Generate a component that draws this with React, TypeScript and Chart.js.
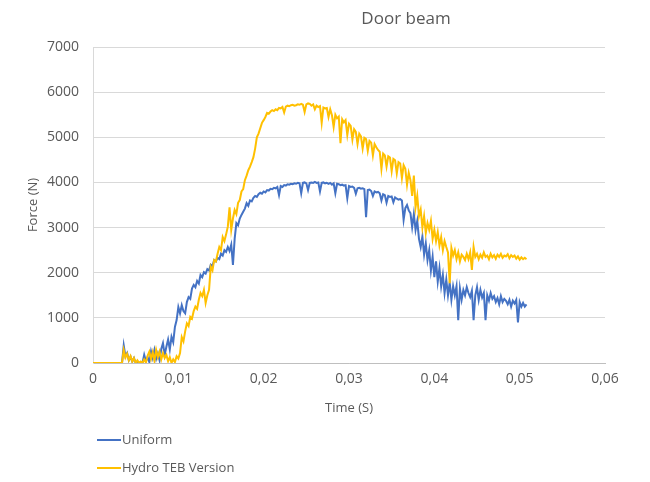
import React, { useEffect, useRef } from "react";
import { Chart, registerables } from "chart.js";

Chart.register(...registerables);

const TITLE = "Door beam";
const X_TITLE = "Time (S)";
const Y_TITLE = "Force (N)";
const SERIES_NAMES = ["Uniform", "Hydro TEB Version"];
const SERIES_COLORS = ["#4472C4", "#FFC000"];
const X_MIN = 0;
const X_MAX = 0.06;
const X_STEP = 0.01;
const Y_MIN = 0;
const Y_MAX = 7000;
const Y_STEP = 1000;

// both traces sit at zero before the first sample
const LEAD_TIMES = [0];
const LEAD_VALUES = [0];

// sampled trace: first sample time and sample spacing (s)
const T_START = 0.0034;
const T_STEP = 0.0002;

const UNIFORM = [
  0, 390, 150, 220, 60, 140, 30, 110, 0, 40,
  0, 20, 0, 180, 40, 130, 20, 260, 110, 290,
  90, 210, 60, 310, 440, 180, 360, 520, 300, 580,
  460, 800, 950, 1240, 1100, 1280, 1150, 1100, 1350, 1460,
  1420, 1650, 1730, 1680, 1820, 1760, 1950, 1900, 2010, 1980,
  2080, 2050, 2180, 2150, 2280, 2250, 2330, 2300, 2420, 2380,
  2500, 2460, 2570, 2480, 2620, 2170, 2750, 3100, 3050, 3200,
  3280, 3350, 3420, 3540, 3480, 3600, 3580, 3660, 3700, 3680,
  3740, 3770, 3750, 3800, 3780, 3830, 3820, 3860, 3850, 3880,
  3870, 3900, 3720, 3920, 3900, 3940, 3930, 3960, 3950, 3970,
  3960, 3980, 3970, 3990, 3980, 3760, 3990, 4000, 3980, 3830,
  3990, 4000, 3990, 4010, 3990, 4000, 3800, 3990, 4000, 3980,
  3990, 3970, 3990, 3950, 3980, 3760, 3970, 3960, 3940, 3950,
  3930, 3940, 3650, 3920, 3900, 3910, 3880, 3750, 3870, 3880,
  3860, 3870, 3850, 3230, 3830, 3840, 3810, 3700, 3800, 3780,
  3790, 3760, 3600, 3740, 3720, 3550, 3700, 3680, 3690, 3560,
  3670, 3640, 3620, 3630, 3600, 3170, 3430, 3500, 3380, 3320,
  3010, 3300, 2950, 3150, 2750, 2570, 2800, 2400, 2650, 2280,
  2500, 2050, 2350, 1900, 2250, 1800, 2100, 1700, 1950, 1550,
  1850, 1500, 1780, 1400, 1700, 1500, 1700, 950, 1650, 1400,
  1620, 1500, 1680, 1550, 1460, 1600, 950, 1500, 1680, 1400,
  1620, 1450, 1550, 950, 1500, 1380, 1550, 1420, 1480, 1350,
  1440, 1300, 1480, 1350, 1420, 1380, 1300, 1400, 1250, 1380,
  1320, 1400, 900, 1350, 1250, 1330, 1250, 1300,
];

const HYDRO = [
  0, 290, 120, 200, 60, 150, 30, 110, 0, 60,
  0, 30, 0, 80, 10, 160, 250, 90, 240, 50,
  290, 130, 250, 80, 220, 110, 180, 40, 130, 0,
  80, 20, 150, 100, 220, 575, 480, 700, 880, 820,
  1020, 980, 1150, 1250, 1200, 1400, 1550, 1480, 1620, 1330,
  1500, 1620, 2130, 2050, 2280, 2250, 2420, 2570, 2500, 2790,
  2700, 2850, 3020, 3450, 2950, 3200, 3390, 3300, 3550, 3610,
  3800, 3850, 4050, 4150, 4270, 4350, 4450, 4560, 4750, 5000,
  5080, 5200, 5320, 5380, 5450, 5540, 5520, 5570, 5600, 5580,
  5620, 5600, 5650, 5640, 5670, 5550, 5680, 5700, 5690, 5710,
  5720, 5700, 5710, 5730, 5720, 5740, 5720, 5560, 5730, 5750,
  5740, 5700, 5730, 5620, 5700, 5670, 5690, 5320, 5660, 5640,
  5650, 5450, 5620, 5490, 5230, 5500, 5420, 5460, 4870, 5400,
  5330, 5380, 5050, 5300, 5250, 4950, 5180, 5120, 4850, 5080,
  5020, 4750, 4990, 4960, 4700, 4920, 4880, 4600, 4850, 4780,
  4720, 4680, 4300, 4640, 4600, 4350, 4580, 4550, 4250, 4520,
  4490, 4200, 4450, 4420, 4100, 4380, 4300, 3950, 4210, 4050,
  3700, 4150, 3450, 3700, 3250, 3400, 3000, 3250, 2880, 3100,
  2950, 3150, 2750, 2950, 2700, 2900, 2600, 2790, 2500, 2700,
  2570, 2450, 1770, 2550, 2380, 2500, 2300, 2450, 2250, 2400,
  2350, 2280, 2420, 2300, 2450, 2060, 2570, 2350, 2420, 2300,
  2400, 2330, 2450, 2350, 2380, 2300, 2420, 2340, 2390, 2310,
  2400, 2350, 2420, 2330, 2380, 2360, 2410, 2320, 2390, 2350,
  2380, 2310, 2360, 2290, 2340, 2300, 2330, 2300,
];

const TEXT_COLOR = "#595959";
const FONT = "'Open Sans', sans-serif";

function toPoints(values: number[]) {
  const lead = LEAD_TIMES.map((t, i) => ({ x: t, y: LEAD_VALUES[i] }));
  const pts = values.map((v, i) => ({
    x: Math.round((T_START + i * T_STEP) * 1e5) / 1e5,
    y: v,
  }));
  return lead.concat(pts);
}

const overlayPlugin = {
  id: "overlay",
  afterDraw(chart: any) {
    const ctx = chart.ctx;
    ctx.save();
    // title
    ctx.fillStyle = TEXT_COLOR;
    ctx.font = `17px ${FONT}`;
    ctx.textAlign = "center";
    ctx.textBaseline = "middle";
    ctx.fillText(TITLE, 406, 19);
    // legend (vertical list, bottom left)
    ctx.font = `13px ${FONT}`;
    ctx.textAlign = "left";
    SERIES_NAMES.forEach((name, i) => {
      const y = 440 + i * 28;
      ctx.strokeStyle = SERIES_COLORS[i];
      ctx.lineWidth = 2;
      ctx.beginPath();
      ctx.moveTo(97, y);
      ctx.lineTo(121, y);
      ctx.stroke();
      ctx.fillStyle = TEXT_COLOR;
      ctx.fillText(name, 122, y);
    });
    ctx.restore();
  },
};

export default function App() {
  const ref = useRef<HTMLCanvasElement | null>(null);

  useEffect(() => {
    if (!ref.current) return;
    const chart = new Chart(ref.current, {
      type: "scatter",
      data: {
        datasets: [
          {
            label: SERIES_NAMES[0],
            data: toPoints(UNIFORM),
            showLine: true,
            borderColor: SERIES_COLORS[0],
            backgroundColor: SERIES_COLORS[0],
            borderWidth: 2,
            pointRadius: 0,
            tension: 0,
            order: 1,
          },
          {
            label: SERIES_NAMES[1],
            data: toPoints(HYDRO),
            showLine: true,
            borderColor: SERIES_COLORS[1],
            backgroundColor: SERIES_COLORS[1],
            borderWidth: 2,
            pointRadius: 0,
            tension: 0,
            order: 0,
          },
        ],
      },
      options: {
        responsive: false,
        animation: false,
        devicePixelRatio: 1,
        layout: { padding: { left: 0, right: 45, top: 47, bottom: 62 } },
        plugins: {
          legend: { display: false },
          tooltip: { enabled: false },
          title: { display: false },
        },
        scales: {
          x: {
            type: "linear",
            min: X_MIN,
            max: X_MAX,
            afterFit: (s: any) => {
              s.height = 57;
            },
            ticks: {
              stepSize: X_STEP,
              color: TEXT_COLOR,
              font: { size: 14, family: FONT },
              padding: 8,
              maxRotation: 0,
              callback: (v: any) => {
                const n = Number(v);
                return n === 0 ? "0" : n.toFixed(2).replace(".", ",");
              },
            },
            grid: { display: false, drawTicks: false },
            border: { display: true, color: "#bfbfbf", width: 1 },
            title: {
              display: true,
              text: X_TITLE,
              color: TEXT_COLOR,
              font: { size: 13, family: FONT },
              padding: { top: 0, bottom: 4 },
            },
          },
          y: {
            min: Y_MIN,
            max: Y_MAX,
            afterFit: (s: any) => {
              s.width = 93;
            },
            ticks: {
              stepSize: Y_STEP,
              color: TEXT_COLOR,
              font: { size: 14, family: FONT },
              padding: 14,
              callback: (v: any) => String(v),
            },
            grid: { color: "#d9d9d9", lineWidth: 1, drawTicks: false },
            border: { display: true, color: "#d9d9d9", width: 1 },
            title: {
              display: true,
              text: Y_TITLE,
              color: TEXT_COLOR,
              font: { size: 13, family: FONT },
              padding: { top: 25, bottom: 0 },
            },
          },
        },
      },
      plugins: [overlayPlugin],
    } as any);
    return () => chart.destroy();
  }, []);

  return (
    <div style={{ position: "fixed", left: 0, top: 0, width: 650, height: 482, background: "#fff" }}>
      <canvas ref={ref} width={650} height={482} />
    </div>
  );
}
